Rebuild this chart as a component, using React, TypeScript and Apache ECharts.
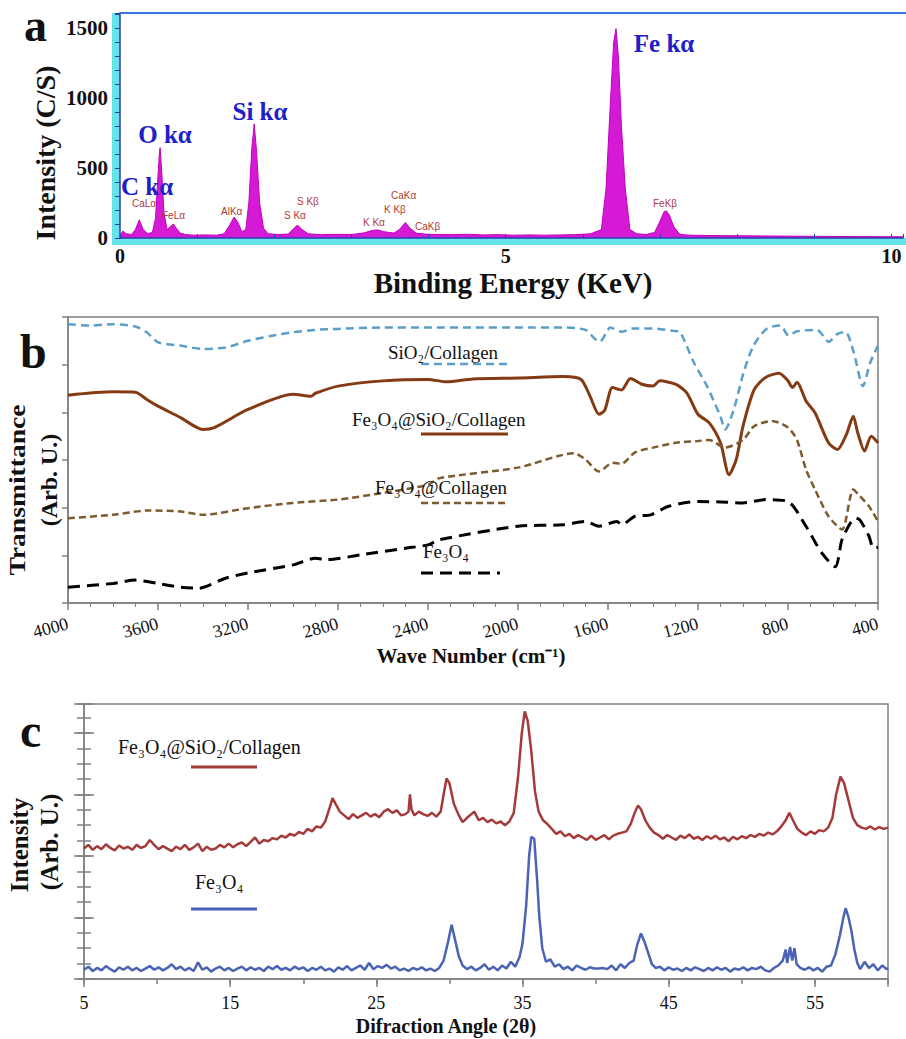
import React, { useEffect, useRef } from "react";
import * as echarts from "echarts";

// ---------------- Panel a : EDS spectrum [energy keV, counts/s] ----------------
const edsSpectrum: [number, number][] = [
  [0.0, 20], [0.04, 50], [0.08, 30], [0.15, 25], [0.2, 60], [0.25, 130], [0.3, 60], [0.36, 30],
  [0.42, 40], [0.46, 140], [0.49, 420], [0.51, 600], [0.52, 645], [0.54, 480], [0.57, 180], [0.61, 60],
  [0.65, 80], [0.69, 100], [0.73, 70], [0.78, 35], [0.85, 25], [0.95, 20], [1.1, 22], [1.25, 20],
  [1.35, 30], [1.42, 90], [1.48, 150], [1.53, 110], [1.58, 45], [1.63, 60], [1.67, 250], [1.71, 650],
  [1.74, 815], [1.77, 620], [1.81, 250], [1.86, 70], [1.92, 30], [2.05, 25], [2.18, 28], [2.24, 60],
  [2.3, 93], [2.36, 60], [2.44, 30], [2.6, 24], [2.8, 26], [3.0, 25], [3.15, 35], [3.28, 55],
  [3.34, 58], [3.42, 45], [3.55, 35], [3.62, 60], [3.7, 110], [3.76, 70], [3.84, 35], [3.95, 28],
  [4.1, 25], [4.3, 24], [4.5, 27], [4.7, 22], [4.9, 24], [5.1, 20], [5.3, 22], [5.5, 20],
  [5.7, 22], [5.9, 24], [6.1, 30], [6.24, 60], [6.3, 350], [6.36, 1000], [6.4, 1400], [6.43, 1495],
  [6.46, 1300], [6.5, 800], [6.55, 350], [6.61, 60], [6.7, 30], [6.82, 25], [6.93, 40], [7.0, 120],
  [7.05, 185], [7.08, 195], [7.12, 165], [7.18, 80], [7.26, 25], [7.4, 20], [7.6, 18], [8.0, 16],
  [8.5, 14], [9.0, 12], [9.5, 10], [10.0, 9], [10.15, 9],
];
const edsMajorLabels = ["C kα", "O kα", "Si kα", "Fe kα"];
const edsMinorLabels = ["CaLα", "FeLα", "AlKα", "S Kβ", "S Kα", "K Kα", "K Kβ", "CaKα", "CaKβ", "FeKβ"];

// ---------------- Panel b : FTIR [wave number cm-1, transmittance arb.] ----------------
const ftirSiO2Collagen: [number, number][] = [
  [4000, 58.5], [3900, 58.2], [3800, 58.5], [3700, 58.0], [3650, 56.8], [3600, 54.7], [3500, 54.0],
  [3400, 53.3], [3300, 53.6], [3200, 55.0], [3100, 56.0], [3000, 56.8], [2900, 57.3], [2800, 57.5],
  [2600, 57.8], [2400, 57.8], [2200, 57.8], [2000, 57.8], [1800, 57.8], [1700, 57.3], [1660, 55.5],
  [1636, 54.8], [1610, 56.5], [1590, 57.8], [1540, 56.9], [1490, 57.6], [1400, 57.6], [1310, 57.1],
  [1279, 56.8], [1219, 50.5], [1160, 45.5], [1101, 39.2], [1079, 36.4], [1041, 40.6], [997, 48.4],
  [953, 54.0], [893, 57.6], [834, 58.2], [797, 56.1], [760, 57.0], [671, 57.3], [619, 54.8],
  [582, 56.4], [545, 56.9], [508, 52.6], [467, 45.5], [434, 50.5], [400, 54.0],
];
const ftirFe3O4SiO2Collagen: [number, number][] = [
  [4000, 43.6], [3800, 44.3], [3700, 44.2], [3650, 42.7], [3600, 41.3], [3500, 38.9], [3400, 36.4],
  [3350, 36.8], [3200, 40.6], [3000, 43.8], [2920, 43.4], [2900, 44.0], [2800, 45.5], [2600, 46.6],
  [2400, 46.9], [2318, 46.4], [2200, 47.0], [2000, 47.2], [1800, 47.5], [1720, 46.9], [1680, 43.4],
  [1640, 39.6], [1615, 40.4], [1580, 45.2], [1540, 44.7], [1500, 47.1], [1450, 45.9], [1400, 45.5],
  [1370, 46.6], [1300, 45.9], [1250, 44.1], [1200, 39.6], [1150, 37.8], [1100, 33.6], [1062, 26.9],
  [1030, 30.1], [1000, 37.1], [950, 44.8], [900, 47.3], [840, 48.2], [800, 46.6], [780, 45.2],
  [760, 46.3], [720, 42.4], [680, 39.9], [620, 33.6], [580, 32.2], [540, 35.4], [510, 39.2],
  [490, 35.7], [460, 31.9], [430, 35.0], [400, 33.6],
];
const ftirFe3O4Collagen: [number, number][] = [
  [4000, 17.8], [3800, 18.5], [3650, 19.4], [3500, 19.2], [3400, 18.5], [3200, 19.9], [3000, 21.0],
  [2800, 21.7], [2600, 23.1], [2400, 24.8], [2348, 26.2], [2000, 28.4], [1750, 31.4], [1700, 30.1],
  [1640, 27.6], [1580, 29.4], [1540, 29.2], [1480, 31.6], [1400, 32.6], [1300, 33.6], [1200, 34.0],
  [1150, 34.2], [1080, 32.6], [1000, 34.2], [950, 37.1], [870, 38.2], [800, 36.8], [760, 34.2],
  [720, 28.0], [680, 23.8], [620, 18.2], [560, 15.4], [510, 23.8], [480, 22.4], [440, 20.3], [400, 17.1],
];
const ftirFe3O4: [number, number][] = [
  [4000, 3.3], [3800, 4.1], [3700, 4.8], [3600, 4.1], [3500, 3.3], [3420, 3.1], [3300, 5.2],
  [3200, 6.3], [3000, 8.0], [2900, 9.4], [2850, 9.1], [2700, 10.1], [2500, 11.5], [2400, 12.2],
  [2348, 13.3], [2000, 16.1], [1800, 16.4], [1700, 17.1], [1640, 16.1], [1560, 17.1], [1540, 16.4],
  [1480, 18.2], [1410, 18.5], [1330, 20.3], [1200, 21.3], [1100, 21.2], [1000, 21.0], [900, 21.7],
  [800, 21.3], [720, 16.1], [650, 10.5], [590, 7.6], [560, 13.3], [520, 17.0], [500, 17.8],
  [480, 17.4], [440, 14.0], [420, 11.5], [400, 11.7],
];
const ftirLegend = ["SiO₂/Collagen", "Fe₃O₄@SiO₂/Collagen", "Fe₃O₄@Collagen", "Fe₃O₄"];

// ---------------- Panel c : XRD [2θ, intensity arb.] ----------------
const xrdFe3O4SiO2Collagen: [number, number][] = [
  [5.0, 212], [5.3, 218], [5.6, 210], [5.9, 216], [6.2, 211], [6.5, 219], [6.8, 213], [7.1, 209],
  [7.4, 217], [7.7, 212], [8.0, 215], [8.3, 210], [8.6, 218], [8.9, 213], [9.2, 216], [9.5, 226],
  [9.8, 218], [10.1, 211], [10.4, 216], [10.7, 212], [11.0, 208], [11.3, 215], [11.6, 211], [11.9, 218],
  [12.2, 210], [12.5, 214], [12.8, 220], [13.1, 208], [13.4, 215], [13.7, 210], [14.0, 212], [14.3, 218],
  [14.6, 214], [14.9, 220], [15.2, 214], [15.5, 219], [15.8, 222], [16.1, 216], [16.4, 223], [16.7, 230],
  [17.0, 220], [17.3, 226], [17.6, 224], [17.9, 229], [18.2, 227], [18.5, 233], [18.8, 230], [19.1, 236],
  [19.4, 233], [19.7, 239], [20.0, 236], [20.3, 244], [20.6, 240], [20.9, 248], [21.2, 246], [21.5, 256],
  [21.8, 278], [22.0, 294], [22.2, 285], [22.5, 272], [22.8, 266], [23.1, 260], [23.4, 268], [23.7, 262],
  [24.0, 266], [24.3, 270], [24.6, 264], [24.9, 268], [25.2, 263], [25.5, 272], [25.8, 276], [26.1, 270],
  [26.4, 274], [26.7, 266], [27.0, 268], [27.2, 272], [27.3, 300], [27.4, 276], [27.6, 266], [27.9, 272],
  [28.2, 268], [28.5, 265], [28.8, 270], [29.1, 264], [29.4, 272], [29.6, 300], [29.8, 326], [30.0, 318],
  [30.3, 285], [30.6, 268], [30.9, 255], [31.2, 262], [31.5, 268], [31.7, 272], [32.0, 258], [32.3, 262],
  [32.6, 255], [32.9, 259], [33.2, 253], [33.5, 256], [33.8, 250], [34.1, 256], [34.4, 270], [34.7, 330],
  [34.95, 400], [35.15, 435], [35.35, 420], [35.6, 370], [35.85, 305], [36.1, 272], [36.4, 258], [36.7, 252],
  [37.0, 244], [37.3, 236], [37.6, 240], [37.9, 232], [38.2, 236], [38.5, 229], [38.8, 234], [39.1, 230],
  [39.4, 226], [39.7, 233], [40.0, 226], [40.3, 230], [40.6, 234], [40.9, 227], [41.2, 233], [41.5, 236],
  [41.8, 238], [42.1, 240], [42.4, 252], [42.7, 272], [42.9, 282], [43.1, 276], [43.4, 258], [43.7, 246],
  [44.0, 238], [44.3, 234], [44.6, 228], [44.9, 234], [45.2, 230], [45.5, 226], [45.8, 233], [46.1, 229],
  [46.4, 235], [46.7, 228], [47.0, 231], [47.3, 226], [47.6, 232], [47.9, 228], [48.2, 233], [48.5, 227],
  [48.8, 230], [49.1, 224], [49.4, 231], [49.7, 227], [50.0, 232], [50.3, 229], [50.6, 234], [50.9, 231],
  [51.2, 236], [51.5, 233], [51.8, 238], [52.1, 235], [52.4, 240], [52.7, 248], [53.0, 258], [53.25, 270],
  [53.5, 258], [53.8, 244], [54.1, 238], [54.4, 234], [54.7, 240], [55.0, 236], [55.3, 242], [55.6, 240],
  [55.9, 246], [56.2, 262], [56.45, 300], [56.75, 329], [57.0, 318], [57.3, 290], [57.6, 262], [57.9, 250],
  [58.2, 246], [58.5, 244], [58.8, 248], [59.1, 243], [59.4, 247], [59.7, 244], [60.0, 246],
];
const xrdFe3O4: [number, number][] = [
  [5.0, 15], [5.3, 20], [5.6, 13], [5.9, 18], [6.2, 14], [6.5, 21], [6.8, 16], [7.1, 12], [7.4, 19],
  [7.7, 15], [8.0, 20], [8.3, 14], [8.6, 18], [8.9, 13], [9.2, 17], [9.5, 21], [9.8, 15], [10.1, 19],
  [10.4, 14], [10.7, 18], [11.0, 24], [11.3, 16], [11.6, 20], [11.9, 14], [12.2, 18], [12.5, 13], [12.8, 27],
  [13.1, 15], [13.4, 19], [13.7, 12], [14.0, 17], [14.3, 20], [14.6, 14], [14.9, 18], [15.2, 13], [15.5, 17],
  [15.8, 20], [16.1, 14], [16.4, 19], [16.7, 15], [17.0, 18], [17.3, 13], [17.6, 20], [17.9, 16], [18.2, 21],
  [18.5, 15], [18.8, 18], [19.1, 14], [19.4, 20], [19.7, 16], [20.0, 19], [20.3, 13], [20.6, 18], [20.9, 15],
  [21.2, 20], [21.5, 14], [21.8, 17], [22.1, 12], [22.4, 19], [22.7, 15], [23.0, 21], [23.3, 14], [23.6, 18],
  [23.9, 22], [24.2, 15], [24.5, 26], [24.8, 16], [25.1, 21], [25.4, 18], [25.7, 23], [26.0, 17], [26.3, 20],
  [26.6, 14], [26.9, 17], [27.2, 13], [27.5, 18], [27.8, 15], [28.1, 19], [28.4, 14], [28.7, 17], [29.0, 13],
  [29.3, 18], [29.6, 30], [29.9, 60], [30.15, 88], [30.4, 62], [30.65, 36], [30.9, 22], [31.2, 16], [31.5, 20],
  [31.8, 14], [32.1, 18], [32.4, 24], [32.7, 15], [33.0, 20], [33.3, 14], [33.6, 22], [33.9, 17], [34.2, 28],
  [34.5, 20], [34.8, 36], [35.0, 58], [35.25, 120], [35.45, 200], [35.6, 231], [35.8, 228], [36.0, 160],
  [36.15, 100], [36.35, 50], [36.6, 28], [36.9, 32], [37.2, 20], [37.5, 24], [37.8, 16], [38.1, 20], [38.4, 14],
  [38.7, 22], [39.0, 18], [39.3, 15], [39.6, 19], [39.9, 17], [40.2, 17], [40.5, 18], [40.8, 16], [41.1, 22],
  [41.4, 14], [41.7, 24], [42.0, 18], [42.3, 26], [42.6, 30], [42.85, 56], [43.1, 74], [43.35, 60], [43.6, 42],
  [43.85, 24], [44.1, 18], [44.4, 20], [44.7, 14], [45.0, 19], [45.3, 15], [45.6, 17], [45.9, 13], [46.2, 18],
  [46.5, 14], [46.8, 19], [47.1, 16], [47.4, 13], [47.7, 18], [48.0, 14], [48.3, 19], [48.6, 15], [48.9, 18],
  [49.2, 12], [49.5, 17], [49.8, 15], [50.1, 19], [50.4, 14], [50.7, 18], [51.0, 16], [51.3, 20], [51.6, 14],
  [51.9, 12], [52.2, 18], [52.5, 22], [52.8, 30], [53.0, 48], [53.1, 26], [53.3, 52], [53.45, 30], [53.6, 50],
  [53.75, 24], [54.0, 18], [54.3, 15], [54.6, 19], [54.9, 14], [55.2, 18], [55.5, 12], [55.8, 20], [56.1, 22],
  [56.4, 40], [56.7, 70], [56.95, 100], [57.1, 115], [57.3, 100], [57.5, 78], [57.7, 48], [57.9, 26], [58.1, 16],
  [58.4, 28], [58.7, 18], [59.0, 24], [59.3, 14], [59.6, 22], [59.9, 16], [60.0, 18],
];
const xrdLegend = ["Fe₃O₄@SiO₂/Collagen", "Fe₃O₄"];

// ---------------- styling ----------------
const SERIF = "'Liberation Serif','Times New Roman',serif";
const SANS = "'Liberation Sans',Arial,sans-serif";
const GRAY = "#808080";
const EDS_AXIS = "#2a3fae";

function txt(text: string, x: number, y: number, o: any = {}) {
  const align = o.align || "center";
  const va = o.va || "middle";
  return {
    type: "text",
    x,
    y,
    rotation: o.rot || 0,
    scaleX: o.sx || 1,
    z: 20,
    style: {
      text,
      fill: o.color || "#111",
      font: `${o.weight || "normal"} ${o.size || 18}px ${o.family || SERIF}`,
      align,
      verticalAlign: va,
      textAlign: align,
      textVerticalAlign: va,
    },
  };
}
function seg(x1: number, y1: number, x2: number, y2: number, color: string, width: number, dash?: number[]) {
  return {
    type: "line",
    z: 20,
    shape: { x1, y1, x2, y2 },
    style: { stroke: color, lineWidth: width, lineDash: dash || null },
  };
}

const C_SIO2 = "#5a9fc9";
const C_FSC = "#843b14";
const C_FC = "#7d5b2f";
const C_FE = "#000000";
const C_XRD_RED = "#a53a3a";
const C_XRD_BLUE = "#4a63b4";
const DASH_SIO2 = [8, 5];
const DASH_FC = [7, 4];
const DASH_FE = [12, 7];

function buildOption(): any {
  const grayLine = { show: true, onZero: false, lineStyle: { color: GRAY, width: 1.5 } };
  const noSplit = { show: false };
  const mult = (v: number, m: number) => Math.abs(v / m - Math.round(v / m)) < 1e-6;

  const graphic: any[] = [
    // panel a frame decorations
    { type: "rect", z: 0, shape: { x: 112, y: 13, width: 8, height: 232 }, style: { fill: "#66e2ea" } },
    { type: "rect", z: 0, shape: { x: 112, y: 238, width: 794, height: 7 }, style: { fill: "#66e2ea" } },
    seg(120, 13, 906, 13, "#3c6fe0", 2),
    txt("a", 24, 25, { align: "left", weight: "bold", size: 46 }),
    txt("Intensity (C/S)", 45, 153, { rot: Math.PI / 2, weight: "bold", size: 28 }),
    txt("Binding Energy (KeV)", 513, 283, { weight: "bold", size: 29 }),
    txt(edsMajorLabels[0], 147, 186, { weight: "bold", size: 25, color: "#2020c8" }),
    txt(edsMajorLabels[1], 165, 134, { weight: "bold", size: 25, color: "#2020c8" }),
    txt(edsMajorLabels[2], 260, 111, { weight: "bold", size: 25, color: "#2020c8" }),
    txt(edsMajorLabels[3], 664, 43, { weight: "bold", size: 25, color: "#2020c8" }),
    txt(edsMinorLabels[0], 132, 203, { align: "left", size: 10, family: SANS, color: "#b03a3a" }),
    txt(edsMinorLabels[1], 162, 215, { align: "left", size: 10, family: SANS, color: "#b03a3a" }),
    txt(edsMinorLabels[2], 221, 211, { align: "left", size: 10, family: SANS, color: "#b03a3a" }),
    txt(edsMinorLabels[3], 297, 201, { align: "left", size: 10, family: SANS, color: "#b03a3a" }),
    txt(edsMinorLabels[4], 284, 215, { align: "left", size: 10, family: SANS, color: "#b03a3a" }),
    txt(edsMinorLabels[5], 363, 222, { align: "left", size: 10, family: SANS, color: "#b03a3a" }),
    txt(edsMinorLabels[6], 384, 209, { align: "left", size: 10, family: SANS, color: "#b03a3a" }),
    txt(edsMinorLabels[7], 391, 195, { align: "left", size: 10, family: SANS, color: "#b03a3a" }),
    txt(edsMinorLabels[8], 415, 226, { align: "left", size: 10, family: SANS, color: "#b03a3a" }),
    txt(edsMinorLabels[9], 653, 203, { align: "left", size: 10, family: SANS, color: "#b03a3a" }),

    // panel b
    txt("b", 20, 351, { align: "left", weight: "bold", size: 48 }),
    txt("Transmittance", 17, 490, { rot: Math.PI / 2, weight: "bold", size: 24, sx: 1.15 }),
    txt("(Arb. U.)", 49, 480, { rot: Math.PI / 2, weight: "bold", size: 24 }),
    txt("Wave Number (cm⁻¹)", 471, 656, { weight: "bold", size: 21 }),
    txt(ftirLegend[0], 388, 352, { align: "left", size: 19 }),
    seg(421, 364, 507, 364, C_SIO2, 2.5, DASH_SIO2),
    txt(ftirLegend[1], 352, 419, { align: "left", size: 19 }),
    seg(421, 434, 508, 434, C_FSC, 3),
    txt(ftirLegend[2], 375, 487, { align: "left", size: 19 }),
    seg(421, 503, 508, 503, C_FC, 2.5, DASH_FC),
    txt(ftirLegend[3], 423, 551, { align: "left", size: 19 }),
    seg(421, 573, 500, 573, C_FE, 3, DASH_FE),

    // panel c
    txt("c", 20, 730, { align: "left", weight: "bold", size: 48 }),
    txt("Intensity", 19, 845, { rot: Math.PI / 2, weight: "bold", size: 25 }),
    txt("(Arb. U.)", 49, 842, { rot: Math.PI / 2, weight: "bold", size: 25 }),
    txt("Difraction Angle (2θ)", 446, 1026, { weight: "bold", size: 20 }),
    txt(xrdLegend[0], 118, 747, { align: "left", size: 20 }),
    seg(191, 767, 257, 767, C_XRD_RED, 3),
    txt(xrdLegend[1], 195, 882, { align: "left", size: 20 }),
    seg(191, 909, 257, 909, C_XRD_BLUE, 3),
  ];

  return {
    animation: false,
    backgroundColor: "#ffffff",
    grid: [
      { left: 120, top: 13, width: 786, height: 225, show: false },
      { left: 68, top: 317, width: 810, height: 286, show: true, borderColor: GRAY, borderWidth: 1.5, backgroundColor: "transparent" },
      { left: 84, top: 704, width: 804, height: 275, show: true, borderColor: GRAY, borderWidth: 1.5, backgroundColor: "transparent" },
    ],
    xAxis: [
      {
        gridIndex: 0, type: "value", min: 0, max: 10.15, interval: 1, z: 10,
        axisLine: { show: true, onZero: false, lineStyle: { color: EDS_AXIS, width: 1.5 } },
        axisTick: { show: true, inside: true, length: 4, lineStyle: { color: EDS_AXIS } },
        splitLine: noSplit,
        axisLabel: {
          interval: 0, formatter: (v: number) => (mult(v, 5) ? String(v) : ""),
          fontFamily: SERIF, fontWeight: "bold", fontSize: 20, color: "#111", margin: 8,
        },
      },
      {
        gridIndex: 1, type: "value", inverse: true, min: 400, max: 4000, interval: 400,
        axisLine: grayLine,
        axisTick: { show: true, length: 7, lineStyle: { color: GRAY, width: 1.5 } },
        minorTick: { show: true, splitNumber: 4, length: 4, lineStyle: { color: GRAY } },
        splitLine: noSplit, minorSplitLine: noSplit,
        axisLabel: {
          interval: 0, rotate: 15, formatter: (v: number) => String(Math.round(v)),
          fontFamily: SERIF, fontSize: 18, color: "#111", margin: 20,
        },
      },
      {
        gridIndex: 2, type: "value", position: "bottom", min: 5, max: 60, interval: 10,
        axisLine: grayLine,
        axisTick: { show: true, length: 8, lineStyle: { color: GRAY, width: 1.5 } },
        splitLine: noSplit,
        axisLabel: {
          interval: 0, formatter: (v: number) => (v < 59 && mult(v - 5, 10) ? String(v) : ""),
          fontFamily: SERIF, fontSize: 18, color: "#111", margin: 15,
        },
      },
      {
        gridIndex: 2, type: "value", position: "bottom", min: 5, max: 60, interval: 5,
        axisLine: { show: false, onZero: false },
        axisTick: { show: true, length: 5, lineStyle: { color: GRAY, width: 1.5 } },
        splitLine: noSplit, axisLabel: { show: false },
      },
    ],
    yAxis: [
      {
        gridIndex: 0, type: "value", min: 0, max: 1607, interval: 100, z: 10,
        axisLine: { show: true, onZero: false, lineStyle: { color: EDS_AXIS, width: 1.5 } },
        axisTick: { show: true, length: 5, lineStyle: { color: EDS_AXIS } },
        splitLine: noSplit,
        axisLabel: {
          interval: 0, formatter: (v: number) => (mult(v, 500) ? String(v) : ""),
          fontFamily: SERIF, fontWeight: "bold", fontSize: 21, color: "#111", margin: 12,
        },
      },
      {
        gridIndex: 1, type: "value", min: 0, max: 60, interval: 10,
        axisLine: grayLine,
        axisTick: { show: true, length: 6, lineStyle: { color: GRAY, width: 1.5 } },
        splitLine: noSplit, axisLabel: { show: false },
      },
      {
        gridIndex: 2, type: "value", position: "left", min: 0, max: 447, interval: 100,
        axisLine: grayLine,
        axisTick: { show: true, length: 10, lineStyle: { color: GRAY, width: 1.5 } },
        splitLine: noSplit, axisLabel: { show: false },
      },
      {
        gridIndex: 2, type: "value", position: "left", min: 0, max: 447, interval: 100,
        axisLine: { show: false, onZero: false },
        axisTick: { show: true, inside: true, length: 10, lineStyle: { color: GRAY, width: 1.5 } },
        splitLine: noSplit, axisLabel: { show: false },
      },
      {
        gridIndex: 2, type: "value", position: "left", min: 0, max: 447, interval: 25,
        axisLine: { show: false, onZero: false },
        axisTick: { show: true, length: 7, lineStyle: { color: GRAY, width: 1.5 } },
        splitLine: noSplit, axisLabel: { show: false },
      },
      {
        gridIndex: 2, type: "value", position: "left", min: 0, max: 447, interval: 25,
        axisLine: { show: false, onZero: false },
        axisTick: { show: true, inside: true, length: 7, lineStyle: { color: GRAY, width: 1.5 } },
        splitLine: noSplit, axisLabel: { show: false },
      },
    ],
    series: [
      {
        type: "line", xAxisIndex: 0, yAxisIndex: 0, data: edsSpectrum, symbol: "none", z: 3,
        lineStyle: { color: "#c000c0", width: 1 }, areaStyle: { color: "#d41ad4", opacity: 1 },
      },
      {
        type: "line", xAxisIndex: 1, yAxisIndex: 1, data: ftirSiO2Collagen, symbol: "none", smooth: 0.25,
        lineStyle: { color: C_SIO2, width: 2.5, type: DASH_SIO2 },
      },
      {
        type: "line", xAxisIndex: 1, yAxisIndex: 1, data: ftirFe3O4SiO2Collagen, symbol: "none", smooth: 0.25,
        lineStyle: { color: C_FSC, width: 3 },
      },
      {
        type: "line", xAxisIndex: 1, yAxisIndex: 1, data: ftirFe3O4Collagen, symbol: "none", smooth: 0.25,
        lineStyle: { color: C_FC, width: 2.5, type: DASH_FC },
      },
      {
        type: "line", xAxisIndex: 1, yAxisIndex: 1, data: ftirFe3O4, symbol: "none", smooth: 0.25,
        lineStyle: { color: C_FE, width: 3, type: DASH_FE },
      },
      {
        type: "line", xAxisIndex: 2, yAxisIndex: 2, data: xrdFe3O4SiO2Collagen, symbol: "none",
        lineStyle: { color: C_XRD_RED, width: 2.5 },
      },
      {
        type: "line", xAxisIndex: 2, yAxisIndex: 2, data: xrdFe3O4, symbol: "none",
        lineStyle: { color: C_XRD_BLUE, width: 2.5 },
      },
    ],
    graphic: { elements: graphic },
  };
}

export default function App() {
  const ref = useRef<HTMLDivElement>(null);
  useEffect(() => {
    if (!ref.current) return;
    const chart = echarts.init(ref.current, null, { renderer: "svg" });
    chart.setOption(buildOption());
    return () => chart.dispose();
  }, []);
  return (
    <div
      ref={ref}
      style={{ position: "absolute", left: 0, top: 0, width: 906, height: 1039, background: "#fff" }}
    />
  );
}
